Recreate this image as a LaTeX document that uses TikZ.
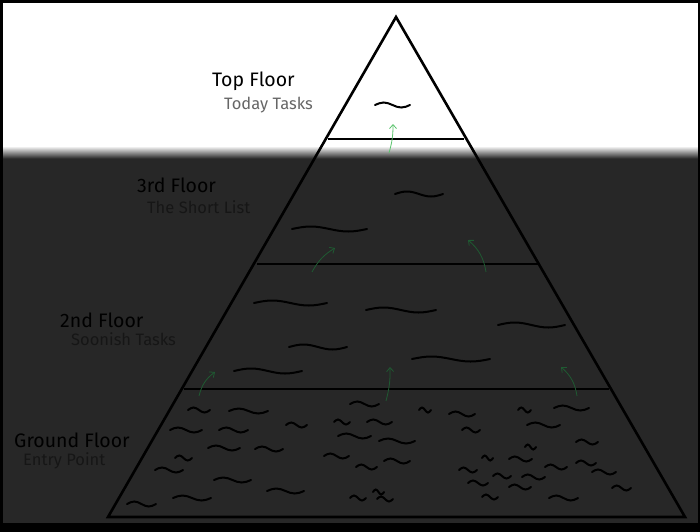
\documentclass[tikz,border=0pt]{standalone}
\usepackage{fontspec}
\setmainfont{Fira Sans}
\usetikzlibrary{arrows.meta}
\definecolor{dark}{HTML}{272727}
\definecolor{subdark}{HTML}{161616}
\definecolor{garrow}{HTML}{1F5A32}
\definecolor{garrowl}{HTML}{5CC46E}
\tikzset{
  sq/.style={line width=2pt,line cap=round,black},
  floorline/.style={line width=1.3pt,black},
  uparrow/.style={-{Straight Barb[length=4pt,width=7pt]},line width=0.8pt,garrow},
  title/.style={anchor=base west,font=\fontsize{19.5}{22}\selectfont,inner sep=0pt},
  sub/.style={anchor=base west,font=\fontsize{16.5}{19}\selectfont,inner sep=0pt}
}
\newcommand{\sq}[3]{\draw[sq] (#1,#2) sin ++(#3/4,-2.5) cos ++(#3/4,2.5) sin ++(#3/4,2.5) cos ++(#3/4,-2.5);}
\begin{document}
\begin{tikzpicture}[x=1pt,y=-1pt]
\useasboundingbox (0,0) rectangle (700,531);
\fill[white] (0,0) rectangle (700,531);
\fill[dark] (0,158) rectangle (700,531);
\shade[top color=white,bottom color=dark] (0,146) rectangle (700,158.5);
\draw[line width=5pt] (0,0) rectangle (700,531);
\fill[black] (0,523) rectangle (700,531);
% pyramid
\coordinate (apex) at (396,17);
\coordinate (bl) at (108,517);
\coordinate (br) at (685,517);
\draw[line width=2.6pt,line join=miter] (apex) -- (bl) -- (br) -- cycle;
\coordinate (l1) at (328,139); \coordinate (r1) at (464,139);
\coordinate (l2) at (257,264); \coordinate (r2) at (538,264);
\coordinate (l3) at (184,389); \coordinate (r3) at (609,389);
\draw[floorline] (l1) -- (r1);
\draw[floorline] (l2) -- (r2);
\draw[floorline] (l3) -- (r3);
% labels
\node[title,text=black] (t1) at (212,86) {Top Floor};
\node[sub,text=black!60] (s1) at (224,109) {Today Tasks};
\node[title,text=black] (t2) at (137,192) {3rd Floor};
\node[sub,text=subdark] (s2) at (147,213) {The Short List};
\node[title,text=black] (t3) at (60,327) {2nd Floor};
\node[sub,text=subdark] (s3) at (71,345) {Soonish Tasks};
\node[title,text=black] (t4) at (14,447) {Ground Floor};
\node[sub,text=subdark] (s4) at (23,465) {Entry Point};
% arrows
\coordinate (a1s) at (389,153); \coordinate (a1e) at (393,124);
\draw[uparrow,garrowl] (a1s) to[bend right=8] (a1e);
\coordinate (a2s) at (312,272); \coordinate (a2e) at (335,248);
\draw[uparrow] (a2s) to[bend left=15] (a2e);
\coordinate (a3s) at (486,272); \coordinate (a3e) at (468,240);
\draw[uparrow] (a3s) to[bend right=20] (a3e);
\coordinate (a4s) at (199,396); \coordinate (a4e) at (215,372);
\draw[uparrow] (a4s) to[bend left=20] (a4e);
\coordinate (a5s) at (386,401); \coordinate (a5e) at (390,367);
\draw[uparrow] (a5s) to[bend right=8] (a5e);
\coordinate (a6s) at (577,396); \coordinate (a6e) at (561,367);
\draw[uparrow] (a6s) to[bend right=20] (a6e);
% squiggles
\sq{375}{105}{35}
\sq{395}{194}{48}
\sq{292}{229}{75}
\sq{254}{303}{73}
\sq{366}{310}{70}
\sq{498}{325}{67}
\sq{289}{347}{58}
\sq{412}{359}{78}
\sq{234}{371}{68}
\sq{188}{410}{22}\sq{229}{411}{39}\sq{350}{404}{29}\sq{419}{410}{12}
\sq{449}{414}{26}\sq{518}{410}{13}\sq{554}{408}{35}\sq{170}{430}{32}
\sq{219}{430}{29}\sq{286}{425}{21}\sq{334}{422}{16}\sq{367}{422}{25}
\sq{462}{430}{18}\sq{527}{425}{33}\sq{338}{436}{33}\sq{379}{441}{36}
\sq{208}{448}{32}\sq{255}{449}{28}\sq{576}{442}{22}\sq{525}{447}{11}
\sq{175}{458}{17}\sq{324}{456}{25}\sq{356}{467}{21}\sq{384}{461}{26}
\sq{482}{458}{11}\sq{509}{459}{23}\sq{576}{463}{20}\sq{155}{470}{28}
\sq{459}{470}{18}\sq{545}{467}{22}\sq{592}{472}{24}\sq{214}{480}{37}
\sq{468}{483}{20}\sq{493}{476}{18}\sq{522}{477}{23}\sq{509}{487}{22}
\sq{267}{491}{37}\sq{612}{488}{19}\sq{173}{498}{38}\sq{350}{498}{16}
\sq{373}{492}{11}\sq{377}{499}{16}\sq{482}{497}{16}\sq{549}{498}{29}
\sq{127}{504}{29}
\end{tikzpicture}
\end{document}
